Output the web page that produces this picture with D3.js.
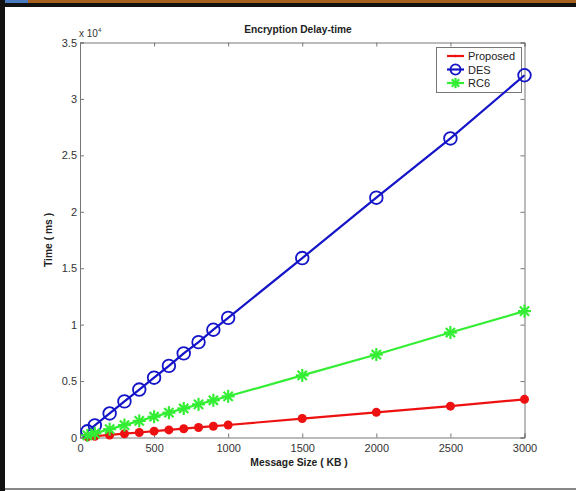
<!DOCTYPE html>
<html><head><meta charset="utf-8">
<script src="https://cdn.jsdelivr.net/npm/d3@7"></script>
<style>body{margin:0;background:#fff;}svg{display:block;}</style>
</head><body>
<svg id="c" width="576" height="491"></svg>
<script>
const sizes = [50, 100, 200, 300, 400, 500, 600, 700, 800, 900, 1000, 1500, 2000, 2500, 3000];
const proposed = [55, 110, 225, 335, 445, 560, 670, 780, 890, 1000, 1110, 1680, 2230, 2780, 3380];
const des = [550, 1070, 2130, 3200, 4250, 5300, 6350, 7450, 8450, 9550, 10600, 15900, 21250, 26500, 32100];
const rc6 = [190, 370, 740, 1100, 1470, 1840, 2200, 2570, 2940, 3300, 3650, 5500, 7350, 9300, 11200];
const xTicks = [0, 500, 1000, 1500, 2000, 2500, 3000];
const yTicks = [0, 5000, 10000, 15000, 20000, 25000, 30000, 35000];
const seriesNames = ["Proposed", "DES", "RC6"];
const colors = {Proposed: "#ee1111", DES: "#1414c8", RC6: "#33ee33"};

const svg = d3.select("#c");
// frame
svg.append("rect").attr("x",0).attr("y",0).attr("width",576).attr("height",3).attr("fill","#a8601e");
svg.append("rect").attr("x",0).attr("y",0).attr("width",28).attr("height",3).attr("fill","#4a7ac0");
svg.append("rect").attr("x",0).attr("y",3).attr("width",576).attr("height",4).attr("fill","#111");
svg.append("rect").attr("x",0).attr("y",0).attr("width",5).attr("height",491).attr("fill","#111");
svg.append("rect").attr("x",5).attr("y",488).attr("width",571).attr("height",2).attr("fill","#888");

const L = 80, R = 524.5, T = 42.5, B = 437.5;
const x = d3.scaleLinear().domain([0, 3000]).range([L, R]);
const y = d3.scaleLinear().domain([0, 35000]).range([B, T]);
const axisCol = "#777";
const font = "Liberation Sans, Arial, sans-serif";

const gB = svg.append("g").attr("transform", `translate(0,${B})`)
  .call(d3.axisBottom(x).tickValues(xTicks).tickSize(-4).tickPadding(7).tickFormat(d3.format("d")));
const gT = svg.append("g").attr("transform", `translate(0,${T})`)
  .call(d3.axisTop(x).tickValues(xTicks).tickSize(-4).tickFormat(""));
const gL = svg.append("g").attr("transform", `translate(${L},0)`)
  .call(d3.axisLeft(y).tickValues(yTicks).tickSize(-4).tickPadding(3).tickFormat(d => d3.format("~g")(d/10000)));
const gR = svg.append("g").attr("transform", `translate(${R},0)`)
  .call(d3.axisRight(y).tickValues(yTicks).tickSize(-4).tickFormat(""));
[gB, gT, gL, gR].forEach(g => {
  g.select(".domain").attr("stroke", axisCol);
  g.selectAll(".tick line").attr("stroke", axisCol);
  g.selectAll("text").attr("fill", "#333").attr("font-family", font).attr("font-size", 11);
});

const ex = svg.append("text").attr("x", 79).attr("y", 37).attr("font-family", font).attr("font-size", 10).attr("fill", "#333");
ex.append("tspan").text("x 10");
ex.append("tspan").attr("dy", -5).attr("font-size", 6).text("4");

svg.append("text").attr("x", 298).attr("y", 33).attr("text-anchor","middle").attr("font-family", font)
  .attr("font-weight","bold").attr("font-size", 10.2).attr("fill","#222").text("Encryption Delay-time");
svg.append("text").attr("x", 299).attr("y", 466).attr("text-anchor","middle").attr("font-family", font)
  .attr("font-weight","bold").attr("font-size", 10.3).attr("fill","#222").text("Message Size ( KB )");
svg.append("text").attr("transform","translate(52,240) rotate(-90)").attr("text-anchor","middle").attr("font-family", font)
  .attr("font-weight","bold").attr("font-size", 10.3).attr("fill","#222").text("Time ( ms )");

const data = {Proposed: proposed, DES: des, RC6: rc6};
const line = d3.line().x(d => x(d[0])).y(d => y(d[1]));

function asterisk(g, cx, cy, r, col) {
  for (let k = 0; k < 4; k++) {
    const a = k * Math.PI / 4;
    g.append("line").attr("x1", cx - r*Math.cos(a)).attr("y1", cy - r*Math.sin(a))
      .attr("x2", cx + r*Math.cos(a)).attr("y2", cy + r*Math.sin(a))
      .attr("stroke", col).attr("stroke-width", 2.2);
  }
}
function marker(g, name, cx, cy, s) {
  const col = colors[name];
  if (name === "Proposed") g.append("circle").attr("cx", cx).attr("cy", cy).attr("r", 4.5*s).attr("fill", col);
  else if (name === "DES") g.append("circle").attr("cx", cx).attr("cy", cy).attr("r", 6.3*s).attr("fill","none").attr("stroke", col).attr("stroke-width", 1.8);
  else asterisk(g, cx, cy, 6.5*s, col);
}

// legend (drawn under data)
const lg = svg.append("g");
lg.append("rect").attr("x", 436.5).attr("y", 47.5).attr("width", 85).attr("height", 45).attr("fill","#fff").attr("stroke", axisCol);
seriesNames.forEach((name, i) => {
  const ly = 56 + i * 13.5;
  lg.append("line").attr("x1", 447).attr("x2", 464).attr("y1", ly).attr("y2", ly).attr("stroke", colors[name]).attr("stroke-width", 2.2);
  marker(lg, name, 455.5, ly, name === "Proposed" ? 0.3 : 0.8);
  lg.append("text").attr("x", 468).attr("y", ly + 4).attr("font-family", font).attr("font-size", 11).attr("fill","#222").text(name);
});

const plot = svg.append("g");
["Proposed", "DES", "RC6"].forEach(name => {
  const pts = sizes.map((s, i) => [s, data[name][i]]);
  plot.append("path").datum(pts).attr("d", line).attr("fill","none").attr("stroke", colors[name]).attr("stroke-width", 2.2);
  const mg = plot.append("g");
  pts.forEach(p => marker(mg, name, x(p[0]), y(p[1]), 1));
});
</script>
</body></html>
